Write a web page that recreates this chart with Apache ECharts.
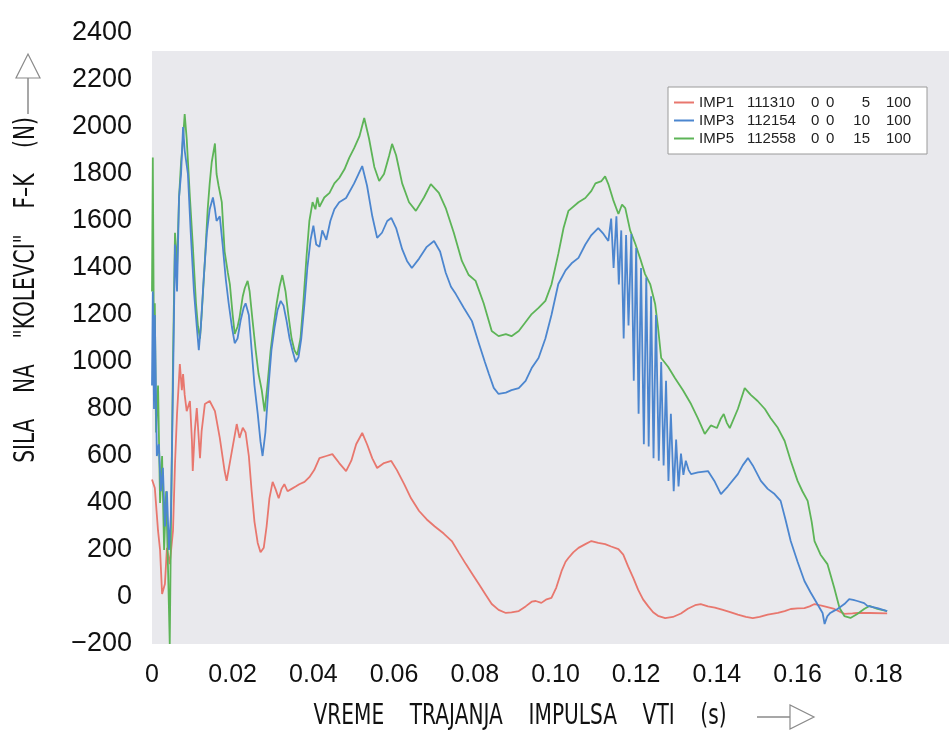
<!DOCTYPE html>
<html><head><meta charset="utf-8">
<script src="https://cdn.jsdelivr.net/npm/echarts@6/dist/echarts.min.js"></script>
<style>html,body{margin:0;padding:0;background:#fff}#c{width:952px;height:736px}</style>
</head><body><div id="c"></div>
<script>
// Legend names (IMP, test no., columns)
const legendNames = [
  'IMP1 111310 0 0 5 100',
  'IMP3 112154 0 0 10 100',
  'IMP5 112558 0 0 15 100'
];
const seriesColors = ['#e8776e', '#4c86cf', '#5db457'];

// x axis: time (s); y axis: force (N)
const xTicks = [0, 0.02, 0.04, 0.06, 0.08, 0.10, 0.12, 0.14, 0.16, 0.18];
const yTicks = [-200, 0, 200, 400, 600, 800, 1000, 1200, 1400, 1600, 1800, 2000, 2200, 2400];

// IMP1 [t, F]
const imp1 = [[0,500],[0.0007,464],[0.0015,281],[0.0020,200],[0.0025,13],[0.0032,55],[0.0037,209],[0.0044,140],[0.0052,281],[0.0057,566],[0.0062,779],[0.0069,991],[0.0074,880],[0.0077,949],[0.0081,860],[0.0086,791],[0.0094,834],[0.0099,664],[0.0101,536],[0.0106,706],[0.0111,804],[0.0119,591],[0.0123,706],[0.0131,821],[0.0143,834],[0.0156,791],[0.0168,677],[0.0180,536],[0.0185,494],[0.0198,621],[0.0210,736],[0.0217,677],[0.0225,720],[0.0232,700],[0.0240,600],[0.0247,450],[0.0254,320],[0.0262,230],[0.0269,190],[0.0277,210],[0.0284,300],[0.0291,420],[0.0299,490],[0.0306,460],[0.0314,420],[0.0321,460],[0.0328,480],[0.0336,450],[0.0346,460],[0.0356,470],[0.0365,480],[0.0378,490],[0.0390,510],[0.0402,540],[0.0415,591],[0.0432,600],[0.0447,608],[0.0464,570],[0.0481,536],[0.0494,580],[0.0506,650],[0.0521,698],[0.0533,650],[0.0546,590],[0.0558,549],[0.0575,570],[0.0593,579],[0.0607,540],[0.0625,480],[0.0642,420],[0.0662,366],[0.0681,330],[0.0701,300],[0.0723,270],[0.0743,238],[0.0760,190],[0.0778,140],[0.0795,95],[0.0810,55],[0.0827,10],[0.0842,-30],[0.0859,-55],[0.0877,-68],[0.0891,-65],[0.0909,-60],[0.0926,-40],[0.0941,-20],[0.0951,-17],[0.0965,-25],[0.0978,-10],[0.0990,-4],[0.1002,40],[0.1015,110],[0.1025,150],[0.1032,166],[0.1044,190],[0.1057,209],[0.1074,225],[0.1089,238],[0.1106,230],[0.1123,225],[0.1138,215],[0.1156,204],[0.1168,180],[0.1180,130],[0.1193,80],[0.1205,30],[0.1217,-10],[0.1230,-40],[0.1242,-65],[0.1254,-80],[0.1272,-90],[0.1291,-85],[0.1311,-70],[0.1328,-50],[0.1346,-35],[0.1360,-30],[0.1378,-40],[0.1395,-45],[0.1415,-55],[0.1435,-65],[0.1452,-75],[0.1472,-85],[0.1489,-90],[0.1506,-85],[0.1526,-75],[0.1551,-68],[0.1568,-60],[0.1583,-51],[0.1600,-48],[0.1617,-47],[0.1630,-40],[0.1642,-30],[0.1654,-35],[0.1667,-40],[0.1691,-51],[0.1716,-72],[0.1736,-70],[0.1748,-68],[0.1780,-68],[0.1822,-70]];

// IMP3 [t, F]
const imp3 = [[0,900],[0.0002,1300],[0.0005,800],[0.0007,1200],[0.0012,600],[0.0017,650],[0.0022,450],[0.0027,550],[0.0032,300],[0.0037,450],[0.0042,200],[0.0047,350],[0.0052,900],[0.0057,1500],[0.0062,1300],[0.0067,1700],[0.0072,1800],[0.0077,2000],[0.0081,1900],[0.0089,1800],[0.0096,1550],[0.0104,1300],[0.0111,1150],[0.0116,1050],[0.0121,1150],[0.0128,1350],[0.0136,1550],[0.0143,1650],[0.0151,1700],[0.0156,1650],[0.0160,1600],[0.0168,1620],[0.0175,1500],[0.0183,1350],[0.0190,1250],[0.0198,1150],[0.0205,1080],[0.0212,1100],[0.0220,1180],[0.0227,1230],[0.0232,1250],[0.0240,1200],[0.0247,1050],[0.0254,900],[0.0262,780],[0.0269,660],[0.0274,600],[0.0281,700],[0.0289,900],[0.0296,1050],[0.0304,1150],[0.0311,1220],[0.0319,1260],[0.0326,1240],[0.0333,1180],[0.0341,1100],[0.0348,1050],[0.0356,1000],[0.0363,1020],[0.0370,1100],[0.0378,1250],[0.0385,1400],[0.0393,1520],[0.0400,1580],[0.0407,1500],[0.0415,1490],[0.0422,1560],[0.0432,1520],[0.0442,1600],[0.0452,1650],[0.0464,1680],[0.0481,1698],[0.0501,1760],[0.0521,1834],[0.0533,1750],[0.0546,1620],[0.0558,1528],[0.0570,1550],[0.0583,1600],[0.0593,1613],[0.0605,1570],[0.0620,1480],[0.0632,1430],[0.0644,1400],[0.0662,1440],[0.0681,1490],[0.0699,1515],[0.0714,1470],[0.0728,1380],[0.0741,1320],[0.0753,1289],[0.0773,1230],[0.0793,1174],[0.0810,1080],[0.0825,1000],[0.0835,949],[0.0847,890],[0.0859,864],[0.0877,870],[0.0891,880],[0.0909,889],[0.0926,920],[0.0941,974],[0.0958,1017],[0.0975,1100],[0.0990,1200],[0.1007,1332],[0.1025,1390],[0.1040,1420],[0.1057,1443],[0.1074,1500],[0.1089,1540],[0.1106,1570],[0.1119,1545],[0.1131,1515],[0.1138,1610],[0.1144,1400],[0.1151,1620],[0.1157,1330],[0.1163,1560],[0.1169,1100],[0.1175,1540],[0.1181,1155],[0.1188,1545],[0.1194,920],[0.1200,1485],[0.1206,780],[0.1212,1400],[0.1219,650],[0.1225,1360],[0.1231,640],[0.1237,1280],[0.1243,590],[0.1249,1200],[0.1256,580],[0.1262,1000],[0.1268,560],[0.1274,920],[0.1280,494],[0.1286,780],[0.1293,450],[0.1299,670],[0.1305,470],[0.1311,610],[0.1317,520],[0.1323,580],[0.1330,540],[0.1336,523],[0.1353,530],[0.1378,536],[0.1395,490],[0.1410,438],[0.1427,470],[0.1452,523],[0.1464,560],[0.1477,591],[0.1489,560],[0.1509,494],[0.1526,460],[0.1543,438],[0.1558,409],[0.1570,330],[0.1583,238],[0.1600,150],[0.1617,68],[0.1632,20],[0.1649,-30],[0.1662,-68],[0.1667,-115],[0.1672,-90],[0.1674,-81],[0.1681,-68],[0.1689,-60],[0.1699,-51],[0.1716,-30],[0.1728,-9],[0.1738,-12],[0.1748,-17],[0.1765,-26],[0.1773,-38],[0.1798,-47],[0.1822,-60]];

// IMP5 [t, F]
const imp5 = [[0,1300],[0.0002,1870],[0.0005,1000],[0.0007,1250],[0.0010,700],[0.0015,900],[0.0020,400],[0.0025,600],[0.0030,200],[0.0035,450],[0.0040,100],[0.0044,-200],[0.0047,300],[0.0052,1000],[0.0057,1550],[0.0062,1400],[0.0067,1700],[0.0072,1850],[0.0077,1950],[0.0081,2055],[0.0086,1950],[0.0094,1700],[0.0101,1500],[0.0109,1250],[0.0114,1150],[0.0119,1100],[0.0123,1200],[0.0131,1430],[0.0138,1650],[0.0143,1760],[0.0148,1850],[0.0156,1930],[0.0160,1800],[0.0165,1750],[0.0173,1680],[0.0180,1470],[0.0188,1380],[0.0193,1330],[0.0200,1200],[0.0205,1120],[0.0212,1150],[0.0217,1190],[0.0225,1280],[0.0230,1315],[0.0237,1345],[0.0242,1300],[0.0249,1180],[0.0257,1050],[0.0264,950],[0.0272,880],[0.0279,790],[0.0286,900],[0.0294,1050],[0.0301,1150],[0.0309,1250],[0.0316,1320],[0.0323,1370],[0.0331,1300],[0.0338,1200],[0.0346,1100],[0.0353,1050],[0.0360,1030],[0.0368,1100],[0.0375,1250],[0.0383,1450],[0.0390,1600],[0.0398,1680],[0.0405,1650],[0.0410,1700],[0.0415,1660],[0.0427,1700],[0.0440,1720],[0.0452,1760],[0.0464,1783],[0.0477,1820],[0.0489,1870],[0.0501,1910],[0.0514,1960],[0.0526,2038],[0.0538,1950],[0.0551,1830],[0.0563,1770],[0.0575,1800],[0.0588,1880],[0.0595,1928],[0.0605,1880],[0.0620,1760],[0.0637,1680],[0.0654,1643],[0.0674,1700],[0.0691,1757],[0.0711,1720],[0.0728,1655],[0.0748,1550],[0.0768,1430],[0.0785,1370],[0.0802,1345],[0.0822,1250],[0.0842,1132],[0.0859,1110],[0.0877,1119],[0.0891,1110],[0.0909,1132],[0.0926,1170],[0.0941,1204],[0.0958,1230],[0.0975,1260],[0.0990,1330],[0.1007,1460],[0.1020,1570],[0.1032,1643],[0.1057,1680],[0.1074,1698],[0.1089,1728],[0.1099,1760],[0.1114,1770],[0.1123,1790],[0.1131,1757],[0.1143,1690],[0.1156,1630],[0.1165,1670],[0.1173,1655],[0.1185,1560],[0.1198,1502],[0.1210,1440],[0.1222,1374],[0.1235,1330],[0.1247,1247],[0.1254,1150],[0.1262,1017],[0.1279,980],[0.1296,932],[0.1316,880],[0.1336,821],[0.1353,760],[0.1370,694],[0.1385,730],[0.1400,719],[0.1410,760],[0.1417,779],[0.1425,740],[0.1432,719],[0.1452,800],[0.1469,889],[0.1484,860],[0.1501,834],[0.1519,800],[0.1533,762],[0.1551,720],[0.1568,664],[0.1583,580],[0.1600,494],[0.1612,450],[0.1625,409],[0.1635,320],[0.1642,238],[0.1657,180],[0.1674,140],[0.1691,38],[0.1704,-47],[0.1716,-81],[0.1731,-89],[0.1748,-72],[0.1765,-51],[0.1778,-38],[0.1798,-51],[0.1822,-60]];

const xTitle = 'VREME    TRAJANJA    IMPULSA    VTI    (s)';
const yTitle = 'SILA    NA    "KOLEVCI"    F\u2013K    (N)';

const titleFont = "'DejaVu Sans', sans-serif";
const regular = "'Liberation Sans', Arial, sans-serif";

// layout (pixels)
const L = 152, PLOT_TOP = 51, BOTTOM = 92, H = 736;
const pxPerUnit = 47 / 200;
const dataMax = -200 + (H - PLOT_TOP - BOTTOM) / pxPerUnit;
const labelTop = H - BOTTOM - (yTicks[yTicks.length - 1] - yTicks[0]) * pxPerUnit;
const xMax = 0.02 * (952 - L) / 81;

const chart = echarts.init(document.getElementById('c'), null, {renderer: 'canvas'});

function legendFmt(name) {
  const p = name.split(' ');
  return '{a|' + p[0] + '}{b|' + p[1] + '}{c|' + p[2] + '}{d|' + p[3] + '}{e|' + p[4] + '}{f|' + p[5] + '}';
}
const rs = {fontFamily: regular, fontSize: 15, color: '#222', lineHeight: 17};

chart.setOption({
  animation: false,
  backgroundColor: '#ffffff',
  grid: [
    {left: L, right: 0, top: PLOT_TOP, bottom: BOTTOM, show: true, backgroundColor: '#e9e9ed', borderWidth: 0},
    {left: L, right: 0, top: labelTop, bottom: BOTTOM, show: false}
  ],
  xAxis: [
    {gridIndex: 0, type: 'value', min: xTicks[0], max: xMax, interval: 0.02,
     axisLine: {show: false}, axisTick: {show: false}, splitLine: {show: false},
     axisLabel: {margin: 19, color: '#111', fontFamily: regular, fontSize: 25,
       formatter: function (v) {
         const k = Math.round(v / 0.02);
         if (Math.abs(v - k * 0.02) > 1e-6 || k > 9) return '';
         return k === 0 ? '0' : (k * 0.02).toFixed(2);
       }}},
    {gridIndex: 1, type: 'value', min: 0, max: xMax, show: false}
  ],
  yAxis: [
    {gridIndex: 0, type: 'value', min: yTicks[0], max: dataMax, show: false, splitLine: {show: false}},
    {gridIndex: 1, type: 'value', min: yTicks[0], max: yTicks[yTicks.length - 1], interval: 200,
     axisLine: {show: false}, axisTick: {show: false}, splitLine: {show: false},
     axisLabel: {margin: 20, color: '#111', fontFamily: regular, fontSize: 27,
       formatter: function (v) { return String(v).replace('-', '\u2212'); }}}
  ],
  legend: {
    data: legendNames,
    orient: 'vertical', left: 668, top: 87,
    padding: [8, 16, 8, 6],
    backgroundColor: '#ffffff', borderColor: '#9a9a9a', borderWidth: 1,
    itemGap: 3, itemWidth: 20, itemHeight: 2, icon: 'rect',
    formatter: legendFmt,
    textStyle: {rich: {
      a: Object.assign({width: 48}, rs),
      b: Object.assign({width: 64}, rs),
      c: Object.assign({width: 15}, rs),
      d: Object.assign({width: 14}, rs),
      e: Object.assign({width: 30, align: 'right'}, rs),
      f: Object.assign({width: 41, align: 'right'}, rs)
    }}
  },
  series: [
    {name: legendNames[0], type: 'line', data: imp1, xAxisIndex: 0, yAxisIndex: 0, showSymbol: false,
     color: seriesColors[0], lineStyle: {width: 1.8, color: seriesColors[0]}, z: 2},
    {name: legendNames[2], type: 'line', data: imp5, xAxisIndex: 0, yAxisIndex: 0, showSymbol: false,
     color: seriesColors[2], lineStyle: {width: 1.8, color: seriesColors[2]}, z: 3},
    {name: legendNames[1], type: 'line', data: imp3, xAxisIndex: 0, yAxisIndex: 0, showSymbol: false,
     color: seriesColors[1], lineStyle: {width: 1.8, color: seriesColors[1]}, z: 4}
  ],
  graphic: [
    {type: 'text', x: 520, y: 717, scaleX: 0.72, style: {text: xTitle, fontFamily: titleFont, fontSize: 28, fill: '#111', align: 'center', verticalAlign: 'middle'}},
    {type: 'polyline', shape: {points: [[757, 717], [790, 717]]}, style: {stroke: '#8a8a8a', lineWidth: 1.5, fill: null}},
    {type: 'polygon', shape: {points: [[790, 705], [790, 729], [814, 717]]}, style: {stroke: '#8a8a8a', lineWidth: 1.2, fill: '#ffffff'}},
    {type: 'text', x: 27, y: 290, rotation: Math.PI / 2, scaleX: 0.72, style: {text: yTitle, fontFamily: titleFont, fontSize: 28, fill: '#111', align: 'center', verticalAlign: 'middle'}},
    {type: 'polyline', shape: {points: [[28, 114], [28, 78]]}, style: {stroke: '#8a8a8a', lineWidth: 1.5, fill: null}},
    {type: 'polygon', shape: {points: [[16, 78], [40, 78], [28, 54]]}, style: {stroke: '#8a8a8a', lineWidth: 1.2, fill: '#ffffff'}}
  ]
});
</script>
</body></html>
